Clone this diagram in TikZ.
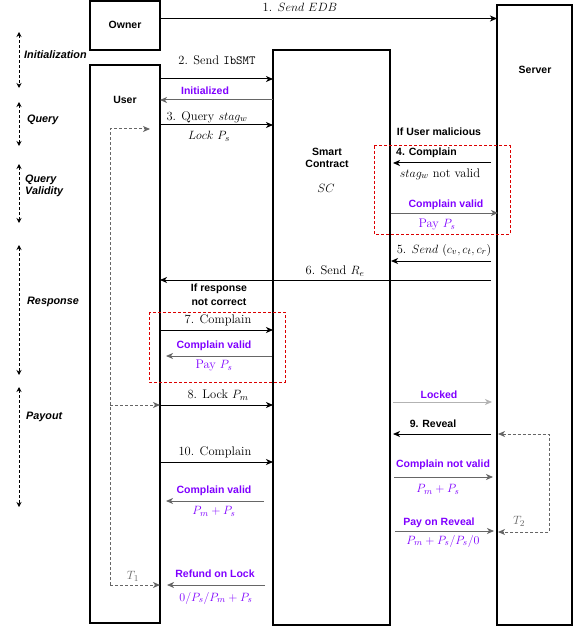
\documentclass[tikz,border=0pt]{standalone}
\usepackage{fontspec}
\newfontfamily\lab{Liberation Sans}
\usetikzlibrary{arrows.meta}
\definecolor{purp}{RGB}{127,0,255}
\definecolor{gr}{RGB}{102,102,102}
\definecolor{lgr}{RGB}{179,179,179}
\definecolor{rd}{RGB}{220,0,0}
\tikzset{
 actor/.style={draw, line width=1.6pt},
 msg/.style={line width=1pt, -{Stealth[length=7pt,width=6pt,inset=2pt]}},
 reply/.style={msg, draw=gr},
 sl/.style={font=\lab\bfseries\fontsize{10.5}{12.5}\selectfont, inner sep=0pt},
 pl/.style={sl, text=purp},
 ml/.style={font=\fontsize{12.5}{14}\selectfont, inner sep=0pt},
 mp/.style={ml, text=purp},
 phase/.style={dash pattern=on 3pt off 2pt, line width=1pt, {Stealth[length=5pt,width=5pt]}-{Stealth[length=5pt,width=5pt]}},
 phl/.style={font=\lab\bfseries\itshape\fontsize{10.8}{12.5}\selectfont, anchor=west, align=left, inner sep=0pt},
 timer/.style={draw=gr, dash pattern=on 3pt off 2pt, line width=1pt, -{Stealth[length=7pt,width=6pt,inset=2pt]}},
 redbox/.style={draw=rd, dash pattern=on 3pt off 2pt, line width=1pt}
}
\begin{document}
\begin{tikzpicture}[x=1pt,y=-1pt]
\useasboundingbox (0,0) rectangle (573,628);
% actors
\draw[actor] (90,1) rectangle (160,50);
\node[sl] (owner) at (125,25) {Owner};
\draw[actor] (90,65) rectangle (160,623);
\node[sl] (user) at (125,100) {User};
\draw[actor] (273,50) rectangle (390,625);
\node[sl, align=center] (sc) at (327,158) {Smart\\Contract};
\node[ml] (sct) at (326,188) {$SC$};
\draw[actor] (497,5) rectangle (572,625);
\node[sl] (server) at (535,70) {Server};

% phases
\draw[phase] (19,32) -- (19,88);
\node[phl] (p1) at (24,55) {Initialization};
\draw[phase] (19,102) -- (19,146);
\node[phl] (p2) at (27,120) {Query};
\draw[phase] (19,164) -- (19,223);
\node[phl] (p3) at (25,186) {Query\\Validity};
\draw[phase] (19,245) -- (19,375);
\node[phl] (p4) at (27,302) {Response};
\draw[phase] (19,387) -- (19,507);
\node[phl] (p5) at (26,417) {Payout};

% 1
\draw[msg] (160,18.5) -- (497,18.5);
\node[ml] (m1) at (300,7) {1. $Send\ EDB$};
% 2
\draw[msg] (160,79) -- (273,79);
\node[ml] (m2) at (217,60) {2. Send \texttt{IbSMT}};
\draw[reply] (273,100) -- (160,100);
\node[pl] (m2r) at (205,91) {Initialized};
% 3
\draw[msg] (160,125) -- (273,125);
\node[ml] (m3) at (207,117) {3. Query $stag_w$};
\node[ml] (m3b) at (209,136) {$Lock\ P_s$};
% timer T1
\draw[timer] (110,585) |- (150,129);
\draw[timer] (110,405) -- (160,405);
\draw[timer] (110,585) -- (160,585);
\node[ml, text=gr] (t1) at (133,576) {$T_1$};

% 4
\node[sl] (um) at (439,132) {If User malicious};
\draw[redbox] (374,146) rectangle (510,234);
\node[sl, anchor=west] (m4) at (396,153) {4. Complain};
\draw[msg] (491,163) -- (393,163);
\node[ml] (m4b) at (440,174) {$stag_w$ not valid};
\node[pl] (m4c) at (446,205) {Complain valid};
\draw[reply] (391,213) -- (498,213);
\node[mp] (m4d) at (437,225) {Pay $P_s$};
% 5
\node[ml] (m5) at (444,250) {5. $Send\ (c_v,c_t,c_r)$};
\draw[msg] (491,261) -- (391,261);
% 6
\node[ml] (m6) at (335,271) {6. Send $R_e$};
\draw[msg] (491,280) -- (160,280);
\node[sl, align=center] (rc) at (219,294.5) {If response\\[1.5pt]not correct};
% 7
\draw[redbox] (149,312) rectangle (285,382);
\node[ml] (m7) at (218,320) {7. Complain};
\draw[msg] (160,330) -- (273,330);
\node[pl] (m7b) at (214,346) {Complain valid};
\draw[reply] (272,356) -- (166,356);
\node[mp] (m7c) at (214,366) {Pay $P_s$};
% 8
\node[ml] (m8) at (218,395) {8. Lock $P_m$};
\draw[msg] (160,405) -- (273,405);
\node[pl] (lk) at (439,395) {Locked};
\draw[msg, draw=lgr] (393,402) -- (492,402);
% 9
\node[sl] (m9) at (433,424) {9. Reveal};
\draw[msg] (491,434) -- (393,434);
% timer T2
\draw[timer, {Stealth[length=7pt,width=6pt,inset=2pt]}-{Stealth[length=7pt,width=6pt,inset=2pt]}] (498,434) -| (549,532) -- (498,532);
\node[ml, text=gr] (t2) at (519,521) {$T_2$};
% 10
\node[ml] (m10) at (215,452) {10. Complain};
\draw[msg] (160,462) -- (273,462);
\node[pl] (m10b) at (214,491) {Complain valid};
\draw[reply] (264,501) -- (166,501);
\node[mp] (m10c) at (214,511) {$P_m+P_s$};
\node[pl] (m10d) at (443,465) {Complain not valid};
\draw[reply] (394,477) -- (493,477);
\node[mp] (m10e) at (438,489) {$P_m+P_s$};
\node[pl] (por) at (439,523) {Pay on Reveal};
\draw[reply] (395,531) -- (494,531);
\node[mp] (pore) at (443,541) {$P_m+P_s/P_s/0$};
\node[pl] (rol) at (215,574) {Refund on Lock};
\draw[reply] (265,585) -- (167,585);
\node[mp] (role) at (216,598) {$0/P_s/P_m+P_s$};
\end{tikzpicture}
\end{document}
